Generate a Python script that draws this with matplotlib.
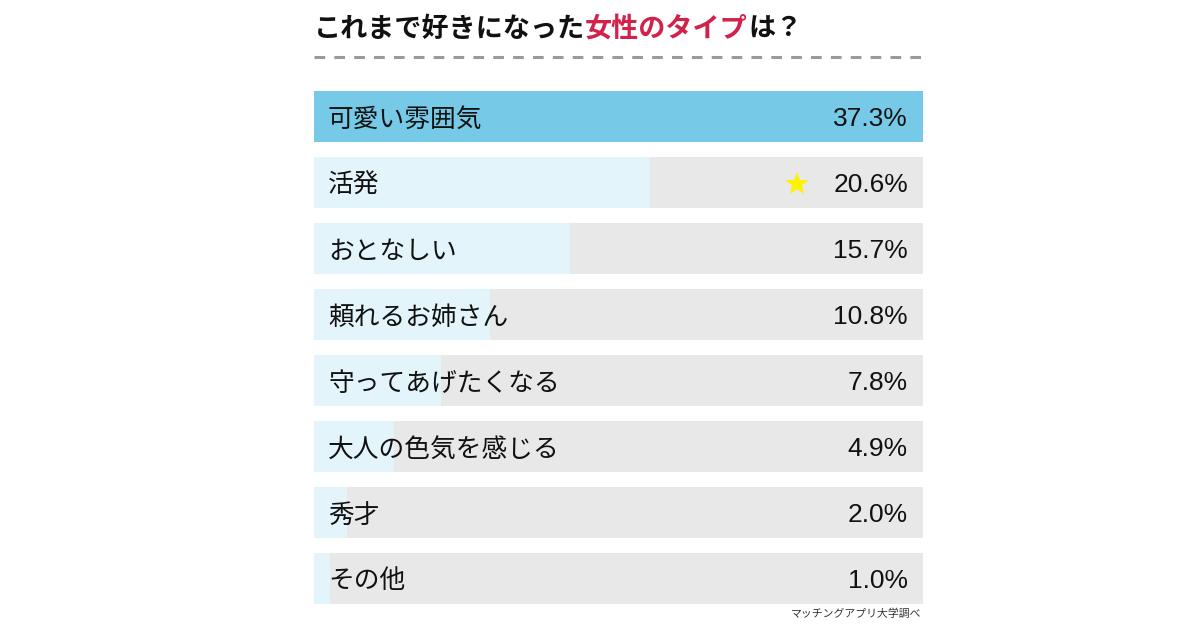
import matplotlib
matplotlib.use('Agg')
from matplotlib import pyplot as plt
from matplotlib.lines import Line2D
import numpy as np

plt.rcParams['font.family'] = ['Noto Sans CJK JP', 'DejaVu Sans']

# Data
labels = ['可愛い雰囲気', '活発', 'おとなしい', '頼れるお姉さん', '守ってあげたくなる',
          '大人の色気を感じる', '秀才', 'その他']
values = [37.3, 20.6, 15.7, 10.8, 7.8, 4.9, 2.0, 1.0]
title_black = 'これまで好きになった'
title_pink = '女性のタイプ'
title_end = 'は？'
source = 'マッチングアプリ大学調べ'

# Colours
top_color = '#76cae7'
fill_color = '#e3f4fa'
bg_color = '#e8e8e8'
pink = '#d2224b'

W, H = 1200, 630
fig = plt.figure(figsize=(12, 6.3), dpi=100)

# chart area in pixels
x0, x1 = 314, 923
y_top, y_bot = 91, 604
ax = fig.add_axes([x0 / W, 1 - y_bot / H, (x1 - x0) / W, (y_bot - y_top) / H])
ax.set_xlim(0, max(values))
n = len(values)
pitch = 66
bar_h = 51
ax.set_ylim((y_bot - y_top), 0)
ax.axis('off')

y_pos = np.arange(n) * pitch + bar_h / 2
for i, (lab, v) in enumerate(zip(labels, values)):
    if i == 0:
        ax.barh(y_pos[i], max(values), height=bar_h, color=top_color, linewidth=0)
    else:
        ax.barh(y_pos[i], max(values), height=bar_h, color=bg_color, linewidth=0)
        ax.barh(y_pos[i], v, height=bar_h, color=fill_color, linewidth=0)
    ax.text(14 / (x1 - x0), y_pos[i] + 3, lab, transform=ax.get_yaxis_transform(),
            ha='left', va='center', fontsize=18.5, color='#111111')
    ax.text(1 - 15 / (x1 - x0), y_pos[i] + 2, f'{v:.1f}%', transform=ax.get_yaxis_transform(),
            ha='right', va='center', fontsize=19, color='#111111', family='Liberation Sans')

# star next to the second value
ax.plot([1 - 126 / (x1 - x0)], [y_pos[1] + 1], marker='*', markersize=18, color='#fff200',
        markeredgewidth=0, transform=ax.get_yaxis_transform())

# Title in three colours
fig.canvas.draw()
renderer = fig.canvas.get_renderer()
tx = x0 / W
ty = 1 - 29 / H
for part, col in [(title_black, '#111111'), (title_pink, pink), (title_end, '#111111')]:
    t = fig.text(tx, ty, part, fontsize=19.5, fontweight='bold', color=col, ha='left', va='center')
    bb = t.get_window_extent(renderer=renderer)
    tx = bb.x1 / W

# dashed line
fig.add_artist(Line2D([x0 / W, x1 / W], [1 - 57 / H, 1 - 57 / H], color='#9a9a9a',
                      linewidth=2.2, linestyle=(0, (3.5, 3))))

# source
fig.text(921 / W, 1 - 614 / H, source, fontsize=7.8, color='#333333', ha='right', va='center')

fig.savefig('out.png', dpi=100, facecolor='white')
